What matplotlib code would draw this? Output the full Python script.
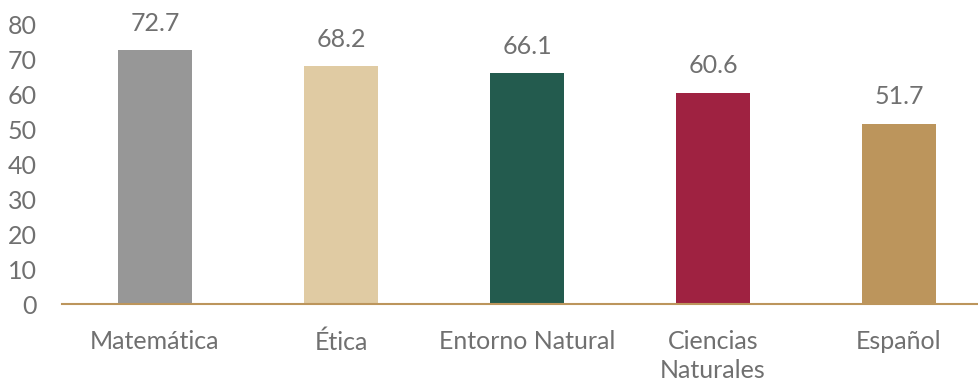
import numpy as np
import matplotlib.pyplot as plt

# Datos
materias = ['Matemática', 'Ética', 'Entorno Natural', 'Ciencias\nNaturales', 'Español']
valores = [72.7, 68.2, 66.1, 60.6, 51.7]
colores = ['#979797', '#E0CBA3', '#235B4E', '#9F2241', '#BC955C']
ticks_y = [0, 10, 20, 30, 40, 50, 60, 70, 80]

gris = '#707070'
plt.rcParams['font.family'] = ['Lato', 'DejaVu Sans']

fig = plt.figure(figsize=(9.79, 3.84), dpi=100)
ax = fig.add_axes([0.0633, 0.2083, 0.9367, 0.7267])

x = np.arange(len(materias))
barras = ax.bar(x, valores, width=0.4, color=colores, zorder=2)

for xi, v in zip(x, valores):
    ax.annotate(f'{v:.1f}', (xi, v), xytext=(0, 11), textcoords='offset points',
                ha='center', va='bottom', fontsize=18, color=gris, annotation_clip=False)

ax.set_xlim(-0.5, 4.43)
ax.set_ylim(0, 80)
ax.set_yticks(ticks_y)
ax.set_xticks(x)
ax.set_xticklabels(materias)

for s in ['top', 'right', 'left']:
    ax.spines[s].set_visible(False)
ax.spines['bottom'].set_color('#BC955C')
ax.spines['bottom'].set_linewidth(1.5)

ax.tick_params(axis='y', length=0, pad=18, labelsize=18, labelcolor=gris)
ax.tick_params(axis='x', length=0, pad=19, labelsize=18, labelcolor=gris)
for lbl in ax.get_xticklabels():
    lbl.set_linespacing(1.3)

fig.savefig('out.png', dpi=100)
